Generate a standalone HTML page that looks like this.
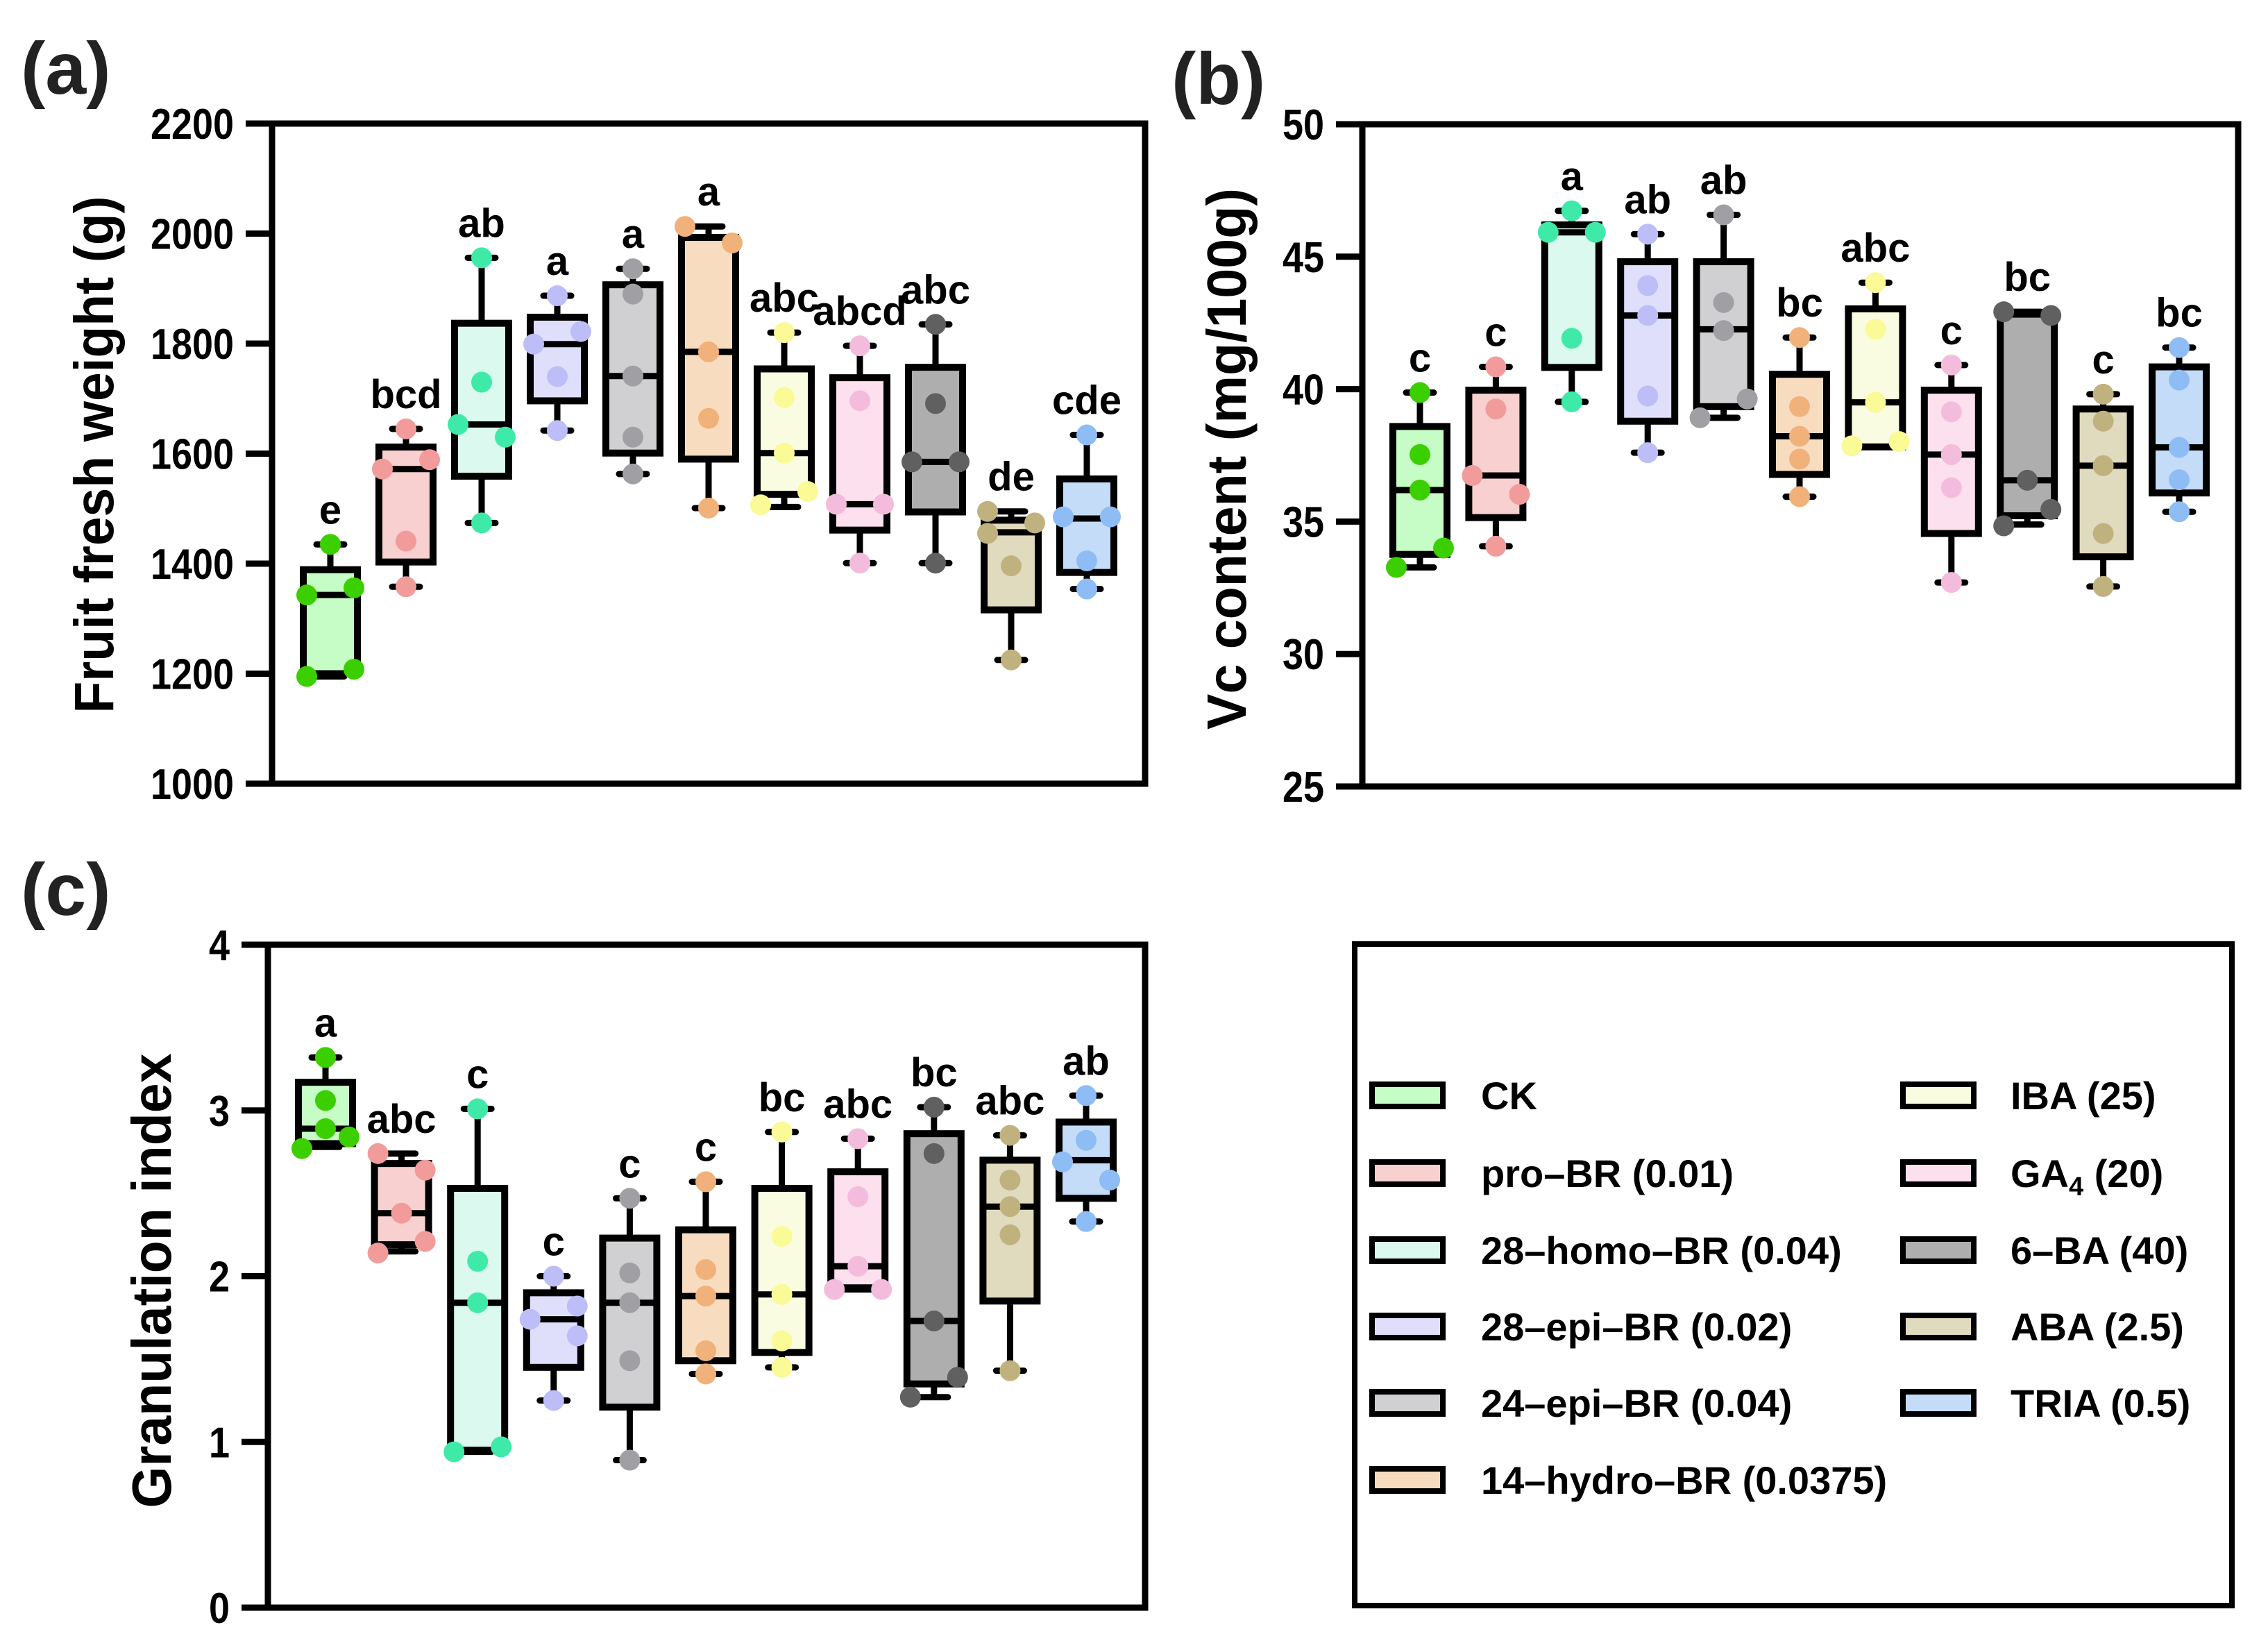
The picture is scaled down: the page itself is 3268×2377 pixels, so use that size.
<!DOCTYPE html>
<html><head><meta charset="utf-8"><style>
html,body{margin:0;padding:0;background:#fff}
svg{display:block}
text{font-family:"Liberation Sans",Arial,sans-serif;font-weight:bold}
</style></head><body>
<svg id="fig" width="3268" height="2377" viewBox="0 0 3268 2377" xmlns="http://www.w3.org/2000/svg">
<rect x="0" y="0" width="3268" height="2377" fill="#fff"/>
</svg>
<script>
// ---------- data ----------
const groups = ["CK","pro-BR (0.01)","28-homo-BR (0.04)","28-epi-BR (0.02)","24-epi-BR (0.04)","14-hydro-BR (0.0375)","IBA (25)","GA4 (20)","6-BA (40)","ABA (2.5)","TRIA (0.5)"];
const fills = ["#c6fcc6","#f8d0d0","#dbf9ee","#dfdffc","#d0d0d2","#f8dcc0","#f9fce0","#fce0ee","#aeaeae","#e0dabe","#c4dcf7"];
const dots  = ["#3ccf00","#f29b9b","#3feaa8","#bdbdf7","#a0a0a4","#f0b27a","#fafa96","#f4bcdc","#606060","#c0b27f","#8ebcf5"];

// Panel (a) Fruit fresh weight
const aMin = [1195,1358,1474,1642,1563,1501,1503,1401,1401,1225,1354];
const aQ1  = [1200,1403,1559,1696,1601,1590,1526,1461,1494,1316,1384];
const aMed = [1343,1572,1653,1799,1741,1785,1601,1508,1585,1457,1482];
const aQ3  = [1389,1612,1837,1848,1907,1993,1754,1738,1757,1479,1554];
const aMax = [1435,1645,1956,1887,1936,2013,1820,1796,1835,1495,1634];
const aPts = [[1435,1356,1343,1195,1208],[1645,1589,1572,1441,1358],[1956,1730,1653,1630,1474],[1887,1822,1799,1740,1642],[1936,1890,1741,1630,1563],[2013,1983,1785,1664,1501],[1820,1702,1601,1531,1507],[1796,1696,1508,1508,1401],[1835,1691,1585,1585,1401],[1495,1474,1455,1396,1225],[1634,1485,1485,1405,1354]];
const aJit = [[0,1,-1,-1,1],[0,1,-1,0,0],[0,0,-1,1,0],[0,1,-1,0,0],[0,0,0,0,0],[-1,1,0,0,0],[0,0,0,1,-1],[0,0,-1,1,0],[0,0,-1,1,0],[-1,1,-1,0,0],[0,-1,1,0,0]];
const aLetters = ["e","bcd","ab","a","a","a","abc","abcd","abc","de","cde"];
const aTicks = [1000,1200,1400,1600,1800,2000,2200];

// Panel (b) Vc content
const bMin = [33.27,34.07,39.52,37.6,38.92,35.94,37.82,32.7,34.89,32.55,35.37];
const bQ1  = [33.76,35.15,40.82,38.79,39.34,36.78,37.82,34.55,35.22,33.67,36.08];
const bMed = [36.19,36.74,45.92,42.78,42.26,38.22,39.5,37.53,36.56,37.11,37.8];
const bQ3  = [38.59,39.96,46.2,44.81,44.81,40.56,43.03,39.96,42.83,39.25,40.84];
const bMax = [39.87,40.84,46.73,45.85,46.58,41.95,44.02,40.91,42.92,39.81,41.57];
const bPts = [[39.87,37.53,36.19,34.0,33.27],[40.84,39.25,36.74,36.03,34.07],[46.73,45.92,45.92,41.92,39.52],[45.85,43.91,42.78,39.74,37.6],[46.58,43.27,42.21,39.63,38.92],[41.95,39.34,38.22,37.36,35.94],[44.02,42.26,39.5,37.86,38.02],[40.91,39.14,37.53,36.28,32.7],[42.92,42.78,36.56,35.46,34.84],[39.81,38.79,37.11,34.55,32.55],[41.57,40.34,37.8,36.58,35.37]];
const bJit = [[0,0,0,1,-1],[0,0,-1,1,0],[0,-1,1,0,0],[0,0,0,0,0],[0,0,0,1,-1],[0,0,0,0,0],[0,0,0,-1,1],[0,0,0,0,0],[-1,1,0,1,-1],[0,0,0,0,0],[0,0,0,0,0]];
const bLetters = ["c","c","a","ab","ab","bc","abc","c","bc","c","bc"];
const bTicks = [25,30,35,40,45,50];

// Panel (c) Granulation index
const cMin = [2.78,2.15,0.94,1.25,0.89,1.41,1.45,1.92,1.27,1.43,2.33];
const cQ1  = [2.80,2.19,0.95,1.45,1.21,1.49,1.54,1.93,1.35,1.85,2.47];
const cMed = [2.89,2.38,1.84,1.74,1.84,1.88,1.89,2.06,1.73,2.42,2.70];
const cQ3  = [3.17,2.68,2.53,1.90,2.23,2.28,2.53,2.63,2.86,2.70,2.93];
const cMax = [3.32,2.74,3.01,2.00,2.47,2.57,2.87,2.83,3.02,2.85,3.09];
const cPts = [[3.32,3.06,2.89,2.84,2.77],[2.74,2.64,2.38,2.21,2.14],[3.01,2.09,1.84,0.97,0.94],[2.00,1.82,1.74,1.64,1.25],[2.47,2.02,1.84,1.49,0.89],[2.57,2.04,1.88,1.55,1.41],[2.87,2.24,1.89,1.61,1.45],[2.83,2.48,2.06,1.92,1.92],[3.02,2.74,1.73,1.39,1.27],[2.85,2.58,2.42,2.25,1.43],[3.09,2.82,2.69,2.58,2.33]];
const cJit = [[0,0,0,1,-1],[-1,1,0,1,-1],[0,0,0,1,-1],[0,1,-1,1,0],[0,0,0,0,0],[0,0,0,0,0],[0,0,0,0,0],[0,0,0,-1,1],[0,0,0,1,-1],[0,0,0,0,0],[0,0,-1,1,0]];
const cLetters = ["a","abc","c","c","c","c","bc","abc","bc","abc","ab"];
const cTicks = [0,1,2,3,4];

// ---------- drawing ----------
const NS = "http://www.w3.org/2000/svg";
const svg = document.getElementById('fig');
function mk(tag, attrs, parent){
  const e = document.createElementNS(NS, tag);
  for (const k in attrs) e.setAttribute(k, attrs[k]);
  (parent||svg).appendChild(e);
  return e;
}
function txt(s, attrs, parent){ const t = mk('text', attrs, parent); t.textContent = s; return t; }

function panel(cfg){
  const g = mk('g', {});
  
  
  const L=cfg.L,R=cfg.R,T=cfg.T,B=cfg.B;
  const y = v => B - (v - cfg.lo)/(cfg.hi - cfg.lo)*(B - T);
  const x = i => cfg.x0 + i*cfg.dx;
  const fr = mk('rect', {x:L,y:T,width:R-L,height:B-T,fill:'none',stroke:'#000','stroke-width':9}, g);
  
  
  cfg.ticks.forEach(tv => {
    const ln = mk('line', {x1:L-38,x2:L,y1:y(tv),y2:y(tv),stroke:'#000','stroke-width':9}, g);
    
    
    const s = String(tv);
    const t = txt(s, {x:L-55,y:y(tv)+22,'text-anchor':'end','font-size':62,textLength:s.length*30,lengthAdjust:'spacingAndGlyphs'}, g);
    
    
  });
  const at = txt(cfg.title, {x:0,y:0,'text-anchor':'middle','font-size':80,textLength:cfg.titleLen,lengthAdjust:'spacingAndGlyphs',transform:`translate(${cfg.titleX},${cfg.titleY}) rotate(-90)`}, g);
  
  
  const pl = txt(cfg.tag, {x:cfg.tagX,y:cfg.tagY,'font-size':106,fill:'#222'}, g);
  
  
  const hw = 39, cap = 20;
  for (let i=0;i<groups.length;i++){
    const cx = x(i);
    const bg = mk('g', {}, g);
    
    
    mk('line',{x1:cx,x2:cx,y1:y(cfg.max[i]),y2:y(cfg.q3[i]),stroke:'#000','stroke-width':9},bg);
    mk('line',{x1:cx,x2:cx,y1:y(cfg.q1[i]),y2:y(cfg.min[i]),stroke:'#000','stroke-width':9},bg);
    mk('line',{x1:cx-cap,x2:cx+cap,y1:y(cfg.max[i]),y2:y(cfg.max[i]),stroke:'#000','stroke-width':9,'stroke-linecap':'round'},bg);
    mk('line',{x1:cx-cap,x2:cx+cap,y1:y(cfg.min[i]),y2:y(cfg.min[i]),stroke:'#000','stroke-width':9,'stroke-linecap':'round'},bg);
    mk('rect',{x:cx-hw,y:y(cfg.q3[i]),width:2*hw,height:Math.max(1,y(cfg.q1[i])-y(cfg.q3[i])),fill:fills[i],stroke:'#000','stroke-width':10},bg);
    mk('line',{x1:cx-hw,x2:cx+hw,y1:y(cfg.med[i]),y2:y(cfg.med[i]),stroke:'#000','stroke-width':9},bg);
    cfg.pts[i].forEach((v,k) => {
      const c = mk('circle',{cx:cx + cfg.jit[i][k]*34, cy:y(v), r:15, fill:dots[i]}, bg);
      
      
    });
    const lt = txt(cfg.letters[i], {x:cx, y:y(cfg.max[i])-30, 'text-anchor':'middle','font-size':58}, g);
    
    
  }
}

panel({name:'panel-a-fruit-weight',L:392,R:1650,T:178,B:1129,lo:1000,hi:2200,ticks:aTicks,x0:476,dx:109,
  min:aMin,q1:aQ1,med:aMed,q3:aQ3,max:aMax,pts:aPts,jit:aJit,letters:aLetters,
  title:'Fruit fresh weight (g)',titleX:163,titleY:655,titleLen:745,tag:'(a)',tagX:30,tagY:135});
panel({name:'panel-b-vc-content',L:1963,R:3225,T:179,B:1133,lo:25,hi:50,ticks:bTicks,x0:2046,dx:109.4,
  min:bMin,q1:bQ1,med:bMed,q3:bQ3,max:bMax,pts:bPts,jit:bJit,letters:bLetters,
  title:'Vc content (mg/100g)',titleX:1795,titleY:661,titleLen:780,tag:'(b)',tagX:1688,tagY:150});
panel({name:'panel-c-granulation',L:386,R:1650,T:1361,B:2316,lo:0,hi:4,ticks:cTicks,x0:469,dx:109.6,
  min:cMin,q1:cQ1,med:cMed,q3:cQ3,max:cMax,pts:cPts,jit:cJit,letters:cLetters,
  title:'Granulation index',titleX:246,titleY:1845,titleLen:655,tag:'(c)',tagX:30,tagY:1318});

// ---------- legend ----------
const lg = mk('g', {});


mk('rect',{x:1952,y:1360,width:1264,height:953,fill:'none',stroke:'#000','stroke-width':8},lg);
const legRowsY = [1578,1690,1801,1911,2021,2132];
const legLabels = ["CK","pro–BR (0.01)","28–homo–BR (0.04)","28–epi–BR (0.02)","24–epi–BR (0.04)","14–hydro–BR (0.0375)","IBA (25)","GA4 (20)","6–BA (40)","ABA (2.5)","TRIA (0.5)"];
legLabels.forEach((lab,i) => {
  const col = i<6 ? 0 : 1;
  const row = i<6 ? i : i-6;
  const sx = col ? 2742 : 1977, tx = col ? 2897 : 2134;
  const yy = legRowsY[row];
  const e = mk('g', {}, lg);
  
  
  mk('rect',{x:sx,y:yy-16,width:102,height:32,fill:fills[i],stroke:'#000','stroke-width':8},e);
  const t = txt('', {x:tx,y:yy+20,'font-size':56}, e);
  if (lab === "GA4 (20)") {
    t.appendChild(document.createTextNode('GA'));
    const s = document.createElementNS(NS,'tspan'); s.setAttribute('font-size','38'); s.setAttribute('dy','12'); s.textContent='4'; t.appendChild(s);
    const s2 = document.createElementNS(NS,'tspan'); s2.setAttribute('dy','-12'); s2.textContent=' (20)'; t.appendChild(s2);
  } else t.textContent = lab;
});
</script>
</body></html>
